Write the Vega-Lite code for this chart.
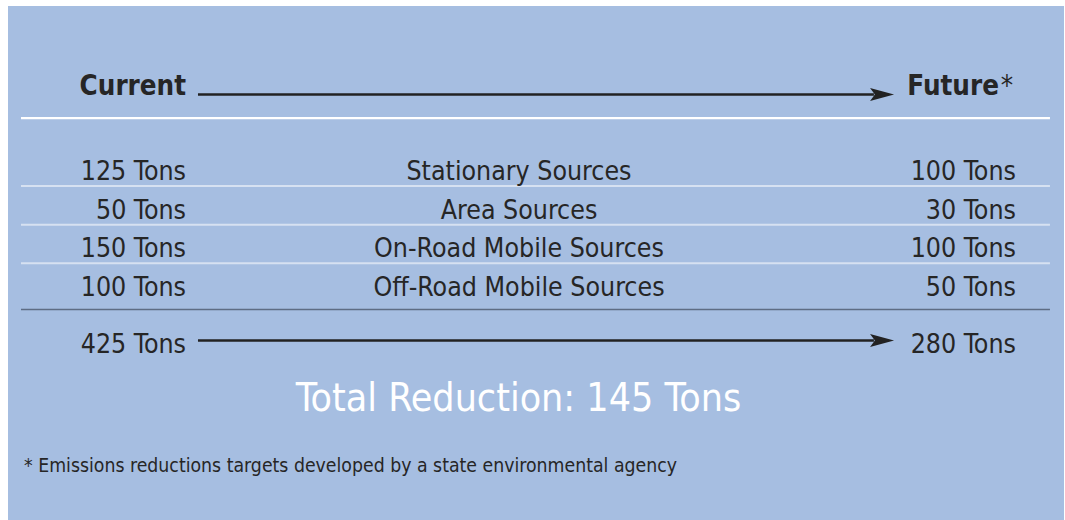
{
  "$schema": "https://vega.github.io/schema/vega-lite/v6.json",
  "width": 1056,
  "height": 514,
  "autosize": "none",
  "padding": {"left": 8, "top": 6, "right": 1, "bottom": 0},
  "background": "white",
  "datasets": {
    "sources": [
      {"row": 1, "source": "Stationary Sources", "current": 125, "future": 100, "currentLabel": "125 Tons", "futureLabel": "100 Tons"},
      {"row": 2, "source": "Area Sources", "current": 50, "future": 30, "currentLabel": "50 Tons", "futureLabel": "30 Tons"},
      {"row": 3, "source": "On-Road Mobile Sources", "current": 150, "future": 100, "currentLabel": "150 Tons", "futureLabel": "100 Tons"},
      {"row": 4, "source": "Off-Road Mobile Sources", "current": 100, "future": 50, "currentLabel": "100 Tons", "futureLabel": "50 Tons"}
    ],
    "totals": [
      {"current": 425, "future": 280, "reduction": 145, "currentLabel": "425 Tons", "futureLabel": "280 Tons", "reductionLabel": "Total Reduction: 145 Tons"}
    ],
    "one": [{}]
  },
  "layer": [
    {
      "data": {"name": "one"},
      "mark": {"type": "rule", "color": "white", "strokeWidth": 2.2},
      "encoding": {
        "x": {"datum": 1.23, "type": "quantitative", "scale": {"domain": [0, 100], "nice": false, "zero": false}},
        "x2": {"datum": 98.67},
        "y": {"datum": -0.603, "type": "quantitative", "scale": {"domain": [-3.5, 9.792], "nice": false, "zero": false, "reverse": true}}
      }
    },
    {
      "data": {"name": "sources"},
      "transform": [{"filter": "datum.row < 4"}],
      "mark": {"type": "rule", "color": "#D6E1F1", "strokeWidth": 2, "yOffset": 6},
      "encoding": {
        "x": {"datum": 1.23, "type": "quantitative"},
        "x2": {"datum": 98.67},
        "y": {"field": "row", "type": "quantitative"}
      }
    },
    {
      "data": {"name": "one"},
      "mark": {"type": "rule", "color": "#5E6D84", "strokeWidth": 1.5},
      "encoding": {
        "x": {"datum": 1.23, "type": "quantitative"},
        "x2": {"datum": 98.67},
        "y": {"datum": 4.349, "type": "quantitative"}
      }
    },
    {
      "data": {"name": "one"},
      "mark": {"type": "rule", "color": "#222222", "strokeWidth": 2.6},
      "encoding": {
        "x": {"datum": 17.99, "type": "quantitative"},
        "x2": {"datum": 82.0},
        "y": {"datum": -1.211, "type": "quantitative"}
      }
    },
    {
      "data": {"name": "one"},
      "mark": {"type": "point", "filled": true, "color": "#222222", "opacity": 1, "size": 576, "shape": "M -1 -0.54 L 1 0 L -1 0.54 L -0.6 0 Z"},
      "encoding": {
        "x": {"datum": 82.77, "type": "quantitative"},
        "y": {"datum": -1.211, "type": "quantitative"}
      }
    },
    {
      "data": {"name": "totals"},
      "mark": {"type": "rule", "color": "#222222", "strokeWidth": 2.6},
      "encoding": {
        "x": {"datum": 17.99, "type": "quantitative"},
        "x2": {"datum": 82.0},
        "y": {"datum": 5.151, "type": "quantitative"}
      }
    },
    {
      "data": {"name": "totals"},
      "mark": {"type": "point", "filled": true, "color": "#222222", "opacity": 1, "size": 576, "shape": "M -1 -0.54 L 1 0 L -1 0.54 L -0.6 0 Z"},
      "encoding": {
        "x": {"datum": 82.77, "type": "quantitative"},
        "y": {"datum": 5.151, "type": "quantitative"}
      }
    },
    {
      "data": {"name": "one"},
      "mark": {"type": "text", "align": "right", "baseline": "alphabetic", "font": "DejaVu Sans Condensed, sans-serif", "fontSize": 27.5, "fontWeight": "bold", "color": "#262626"},
      "encoding": {
        "x": {"datum": 16.86, "type": "quantitative"},
        "y": {"datum": -1.198, "type": "quantitative"},
        "text": {"value": "Current"}
      }
    },
    {
      "data": {"name": "one"},
      "mark": {"type": "text", "align": "right", "baseline": "alphabetic", "font": "DejaVu Sans Condensed, sans-serif", "fontSize": 27.5, "fontWeight": "bold", "color": "#262626"},
      "encoding": {
        "x": {"datum": 93.84, "type": "quantitative"},
        "y": {"datum": -1.198, "type": "quantitative"},
        "text": {"value": "Future"}
      }
    },
    {
      "data": {"name": "one"},
      "mark": {"type": "text", "align": "left", "baseline": "alphabetic", "font": "DejaVu Sans Condensed, sans-serif", "fontSize": 27.5, "color": "#262626"},
      "encoding": {
        "x": {"datum": 94.0, "type": "quantitative"},
        "y": {"datum": -1.198, "type": "quantitative"},
        "text": {"value": "*"}
      }
    },
    {
      "data": {"name": "sources"},
      "mark": {"type": "text", "align": "right", "baseline": "alphabetic", "font": "DejaVu Sans Condensed, sans-serif", "fontSize": 26.5, "color": "#262626"},
      "encoding": {
        "x": {"datum": 16.86, "type": "quantitative"},
        "y": {"field": "row", "type": "quantitative"},
        "text": {"field": "currentLabel"}
      }
    },
    {
      "data": {"name": "sources"},
      "mark": {"type": "text", "align": "center", "baseline": "alphabetic", "font": "DejaVu Sans Condensed, sans-serif", "fontSize": 26.5, "color": "#262626"},
      "encoding": {
        "x": {"datum": 48.39, "type": "quantitative"},
        "y": {"field": "row", "type": "quantitative"},
        "text": {"field": "source"}
      }
    },
    {
      "data": {"name": "sources"},
      "mark": {"type": "text", "align": "right", "baseline": "alphabetic", "font": "DejaVu Sans Condensed, sans-serif", "fontSize": 26.5, "color": "#262626"},
      "encoding": {
        "x": {"datum": 95.45, "type": "quantitative"},
        "y": {"field": "row", "type": "quantitative"},
        "text": {"field": "futureLabel"}
      }
    },
    {
      "data": {"name": "totals"},
      "mark": {"type": "text", "align": "right", "baseline": "alphabetic", "font": "DejaVu Sans Condensed, sans-serif", "fontSize": 26.5, "color": "#262626"},
      "encoding": {
        "x": {"datum": 16.86, "type": "quantitative"},
        "y": {"datum": 5.474, "type": "quantitative"},
        "text": {"field": "currentLabel"}
      }
    },
    {
      "data": {"name": "totals"},
      "mark": {"type": "text", "align": "right", "baseline": "alphabetic", "font": "DejaVu Sans Condensed, sans-serif", "fontSize": 26.5, "color": "#262626"},
      "encoding": {
        "x": {"datum": 95.45, "type": "quantitative"},
        "y": {"datum": 5.474, "type": "quantitative"},
        "text": {"field": "futureLabel"}
      }
    },
    {
      "data": {"name": "totals"},
      "mark": {"type": "text", "align": "center", "baseline": "alphabetic", "font": "DejaVu Sans Condensed, sans-serif", "fontSize": 39, "color": "white"},
      "encoding": {
        "x": {"datum": 48.34, "type": "quantitative"},
        "y": {"datum": 6.974, "type": "quantitative"},
        "text": {"field": "reductionLabel"}
      }
    },
    {
      "data": {"name": "one"},
      "mark": {"type": "text", "align": "left", "baseline": "alphabetic", "font": "DejaVu Sans Condensed, sans-serif", "fontSize": 19.3, "color": "#262626"},
      "encoding": {
        "x": {"datum": 1.52, "type": "quantitative"},
        "y": {"datum": 8.551, "type": "quantitative"},
        "text": {"value": "* Emissions reductions targets developed by a state environmental agency"}
      }
    }
  ],
  "config": {
    "view": {"fill": "#A6BEE1", "stroke": null},
    "axis": {"disable": true}
  }
}
